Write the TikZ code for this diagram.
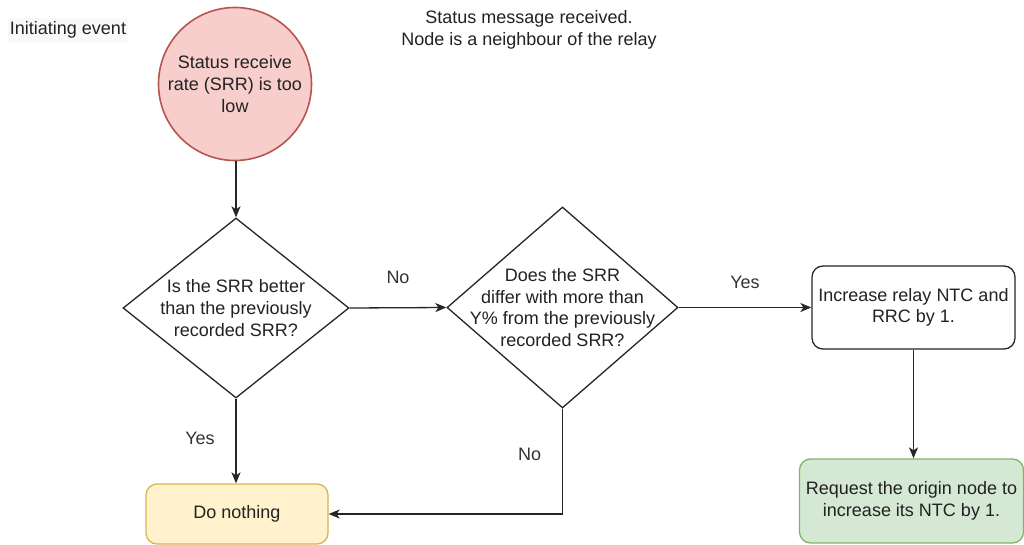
\documentclass[tikz,border=0pt]{standalone}
\usepackage{fontspec}
\setmainfont{Liberation Sans}
\usetikzlibrary{shapes.geometric,arrows.meta}
\definecolor{redfill}{HTML}{F8CECC}
\definecolor{redline}{HTML}{B85450}
\definecolor{yelfill}{HTML}{FFF2CC}
\definecolor{yelline}{HTML}{D6B656}
\definecolor{grnfill}{HTML}{D5E8D4}
\definecolor{grnline}{HTML}{82B366}
\definecolor{txt}{HTML}{222222}
\definecolor{lbl}{HTML}{333333}
\definecolor{notebg}{HTML}{F8F9FA}
\begin{document}
\begin{tikzpicture}[x=1pt,y=-1pt,
  every node/.style={font=\fontsize{18}{21.6}\selectfont, text=txt, align=center},
  edge/.style={line width=1.3pt, draw=black!85, -{Stealth[length=11pt,width=9pt,inset=3pt]}},
  decision/.style={diamond, draw=black!85, line width=1.3pt, inner sep=0pt, fill=white},
  procbox/.style={rectangle, rounded corners=11pt, draw=black!85, line width=1.3pt, inner sep=0pt, fill=white},
  edgelabel/.style={text=lbl}
]
\useasboundingbox (0,0) rectangle (1024,545);

% free-standing captions
\node[fill=notebg, inner xsep=2pt, inner ysep=4pt] (initev) at (68,30) {Initiating event};
\node (statmsg) at (529,30) {Status message received.\\Node is a neighbour of the relay};

% start event
\node[circle, draw=redline, fill=redfill, line width=1.6pt, minimum size=153pt, inner sep=0pt]
  (start) at (235,84) {Status receive\\rate (SRR) is too\\low};

% decisions
\node[decision, minimum width=226pt, minimum height=180pt,
  label={[align=center]center:Is the SRR better\\than the previously\\recorded SRR?}]
  (better) at (236,308) {};
\node[decision, minimum width=231pt, minimum height=201pt,
  label={[align=center]center:Does the SRR\\differ with more than\\Y\% from the previously\\recorded SRR?}]
  (differ) at (562.5,307.5) {};

% actions
\node[procbox, minimum width=203pt, minimum height=83pt] (incr) at (913.5,307.5)
  {Increase relay NTC and\\RRC by 1.};
\node[procbox, draw=grnline, fill=grnfill, minimum width=224pt, minimum height=84pt] (request) at (911.5,501)
  {Request the origin node to\\increase its NTC by 1.};
\node[procbox, draw=yelline, fill=yelfill, minimum width=182pt, minimum height=60pt] (nothing) at (237,514)
  {Do nothing};

% connectors
\draw[edge] (start.south -| better.north) -- (better.north);
\draw[edge] (better.east) -- node[edgelabel, yshift=30pt] {No} (differ.west);
\draw[edge] (differ.east) -- node[edgelabel, yshift=25pt] {Yes} (incr.west);
\draw[edge] (incr.south) -- (incr.south |- request.north);
\draw[edge] (better.south) -- node[edgelabel, xshift=-36pt, yshift=3pt] {Yes} (better.south |- nothing.north);
\draw[edge] (differ.south) |- node[edgelabel, pos=0.25, xshift=-33pt, yshift=7pt] {No} (nothing.east);
\end{tikzpicture}
\end{document}
